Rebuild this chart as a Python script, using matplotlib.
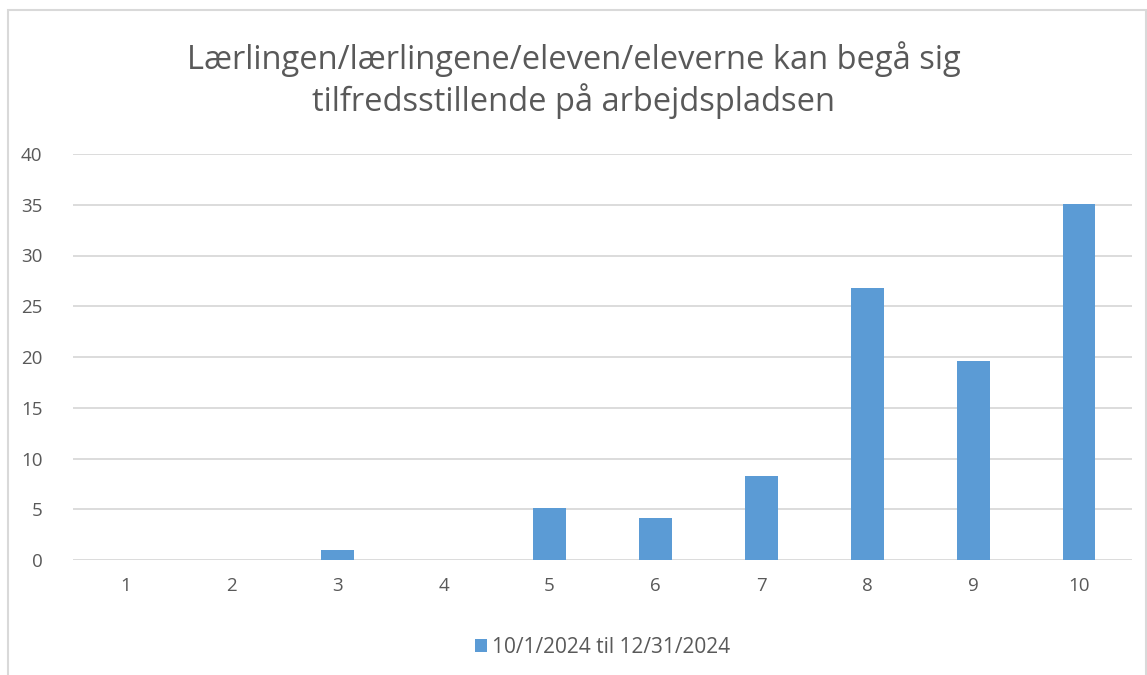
import matplotlib.pyplot as plt
from matplotlib.patches import Rectangle

# Data (percent of answers per score)
categories = ['1', '2', '3', '4', '5', '6', '7', '8', '9', '10']
values = [0, 0, 1.03, 0, 5.15, 4.12, 8.25, 26.80, 19.59, 35.05]
series_label = '10/1/2024 til 12/31/2024'
title = 'Lærlingen/lærlingene/eleven/eleverne kan begå sig\ntilfredsstillende på arbejdspladsen'

plt.rcParams['font.family'] = ['Open Sans', 'DejaVu Sans']

W, H = 1147, 675
fig = plt.figure(figsize=(W / 100, H / 100), dpi=100)

# chart frame (partly cut off at bottom/right)
fig.patches.append(Rectangle((8 / W, -0.05), (1146 - 8) / W, 1.05 - 10 / H,
                             transform=fig.transFigure, fill=False,
                             edgecolor='#d9d9d9', linewidth=1.5))

ax = fig.add_axes([73 / W, 1 - 560 / H, (1132 - 73) / W, (560 - 154) / H])
x = range(len(categories))
ax.bar(x, values, width=0.31, color='#5b9bd5', label=series_label, zorder=3)

ax.set_xlim(-0.5, len(categories) - 0.5)
ax.set_ylim(0, 40)
ax.set_yticks(range(0, 41, 5))
ax.set_xticks(list(x))
ax.set_xticklabels(categories)
ax.grid(axis='y', color='#d9d9d9', linewidth=1.3, zorder=0)
for s in ax.spines.values():
    s.set_visible(False)
ax.tick_params(length=0, labelsize=13.5, labelcolor='#595959', pad=12)
ax.tick_params(axis='y', pad=22)

fig.text(0.5, 1 - 80 / H, title, ha='center', va='center', fontsize=23.5,
         color='#595959', linespacing=1.2)

ax.legend(loc='center', bbox_to_anchor=(0.5, -0.215), frameon=False,
          fontsize=15, labelcolor='#595959', handlelength=0.6, handleheight=0.6,
          handletextpad=0.25)

fig.savefig('out.png', dpi=100)
